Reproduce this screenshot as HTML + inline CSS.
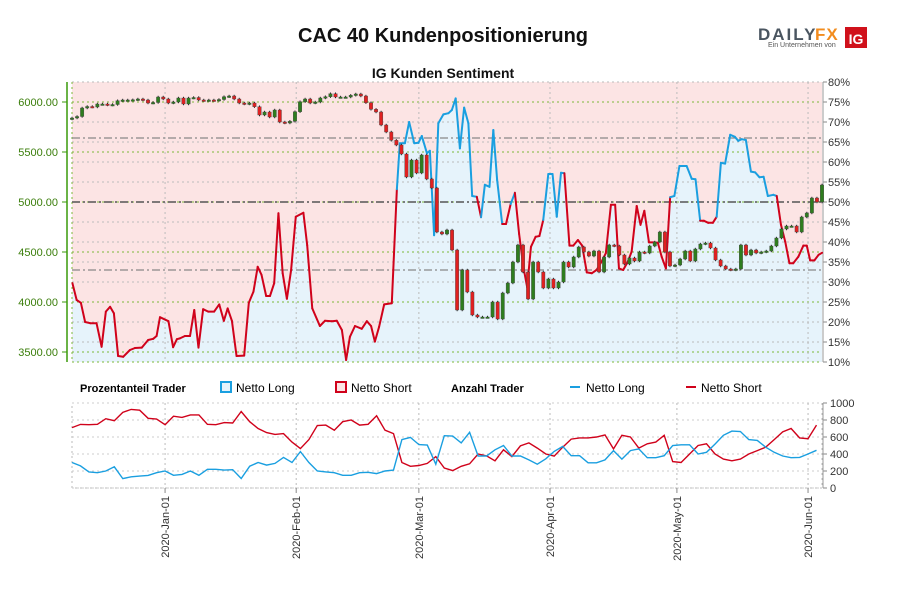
<!DOCTYPE html>
<html><head><meta charset="utf-8"><style>
body{margin:0;background:#fff;font-family:"Liberation Sans",sans-serif}
#wrap{position:relative;width:900px;height:600px;overflow:hidden}
svg text{font-family:"Liberation Sans",sans-serif}
</style></head><body><div id="wrap">
<svg id="s" width="900" height="600" xmlns="http://www.w3.org/2000/svg">
<text x="443" y="42" text-anchor="middle" font-size="20" font-weight="bold" fill="#111">CAC 40 Kundenpositionierung</text>
<text x="443" y="78" text-anchor="middle" font-size="14" font-weight="bold" fill="#111">IG Kunden Sentiment</text>
<g>
<text x="758" y="40" font-size="17" font-weight="bold" fill="#4a5560" letter-spacing="2">DAILY</text>
<text x="815" y="40" font-size="17" font-weight="bold" fill="#f28c1e" letter-spacing="1">FX</text>
<text x="768" y="47" font-size="7" fill="#555">Ein Unternehmen von</text>
<rect x="845" y="27" width="22" height="21" fill="#d0111b"/>
<text x="856" y="44" text-anchor="middle" font-size="14" font-weight="bold" fill="#fff">IG</text>
</g>
<g id="main"></g>
<g id="lower"></g>
<g font-size="12">
<text x="80" y="392" font-weight="bold" font-size="11">Prozentanteil Trader</text>
<rect x="221" y="382" width="10" height="10" fill="#e6f3fb" stroke="#1a9fe0" stroke-width="2"/>
<text x="236" y="392">Netto Long</text>
<rect x="336" y="382" width="10" height="10" fill="#fce4e4" stroke="#d0021b" stroke-width="2"/>
<text x="351" y="392">Netto Short</text>
<text x="451" y="392" font-weight="bold" font-size="11">Anzahl Trader</text>
<line x1="570" y1="387" x2="580" y2="387" stroke="#1a9fe0" stroke-width="2"/>
<text x="586" y="392">Netto Long</text>
<line x1="686" y1="387" x2="696" y2="387" stroke="#d0021b" stroke-width="2"/>
<text x="701" y="392">Netto Short</text>
</g>
</svg></div>
<script>
// ---- data ----
const sentDays=[0.1,1.1,2.1,3.1,4.3,5.8,7.0,8.0,9.0,9.9,10.9,12.1,13.7,14.9,16.5,18.0,19.2,20.0,20.8,22.8,23.9,24.8,25.5,26.7,27.9,28.9,29.9,31.0,32.2,33.6,34.8,35.9,36.8,37.8,38.9,40.7,41.8,42.9,43.9,44.8,45.9,46.8,47.8,48.8,49.8,50.8,51.8,52.9,54.7,55.6,56.8,58.6,59.8,61.4,62.6,63.8,64.8,65.7,66.9,68.5,69.7,70.7,71.6,72.6,73.8,75.6,76.8,77.5,78.7,79.7,80.9,81.9,82.7,83.9,84.6,85.6,86.6,87.8,89.0,89.8,90.7,91.7,92.7,93.7,94.6,95.7,96.7,97.6,98.7,99.6,100.5,101.7,102.6,103.7,104.7,105.7,106.7,107.6,108.5,109.6,110.5,111.4,112.6,113.6,114.6,115.6,116.4,117.6,118.5,119.6,120.6,121.7,122.9,124.0,125.2,126.2,127.4,128.4,129.3,130.3,131.4,132.3,133.5,134.4,135.3,136.4,137.4,138.5,139.4,140.4,141.4,142.4,143.6,145.3,146.5,147.4,148.5,149.4,150.4,151.5,152.4,153.4,154.4,155.6,156.7,157.5,158.3,159.3,160.5,161.5,162.5,163.5,164.5,165.8,166.6,167.6,168.6,169.6,170.5,171.7,172.9,173.7,174.5,175.5,176.5,177.3];
const sentLong=[29.7,25.5,24.8,20,19.7,19.7,13.8,22.6,23.8,22.2,11.5,11.3,13,13.5,13.6,15.5,15.8,16.5,21.2,20.2,13.7,15.7,15.9,16.5,16.5,23,13.6,23.2,22.6,22.6,24.4,20.3,23.4,20.3,11.5,11.6,24.8,27.6,33.8,31.8,26.5,26.5,29.7,47.2,32.2,25.8,33,46.3,47.3,39.2,23.4,19,20.3,20.2,20.3,18,10.5,16.3,19,18.3,20.2,19,15.1,18.8,24.4,24.7,53.2,64.7,64.7,70,64.7,64.8,66.5,62.2,62.8,41.7,69.7,71.9,72.2,73,75.9,63.4,73.6,69.7,51.5,51.3,46.2,54.3,53.8,68,55.5,44.5,44.5,49.5,52.3,42,33.8,28.7,38.8,41.3,41.5,45.5,57,57,46.3,57.3,57.2,39.1,39.1,40.5,39.1,32.4,32.2,33,35.1,37.2,49.3,49.3,33.4,33,35.1,37.6,49,44.3,47.8,39.9,39.9,39.8,36.3,33.4,51.2,51.5,59,59,55.8,55.7,45.3,45.3,44.8,44.8,46.3,59.8,59.6,66.8,66.3,65.3,65.7,65.5,57.6,57.4,56.2,56.3,51.5,51.8,51.5,44.3,40.1,34.7,34.7,36.3,39.1,39.1,35.4,35.4,36.8,37.3];
const closes=[5840,5855,5940,5955,5950,5980,5980,5970,5975,6013,6020,6020,6022,6030,6020,5990,5995,6050,6030,5990,6000,6040,5980,6040,6045,6020,6015,6020,6015,6025,6053,6060,6030,5990,5980,5990,5953,5870,5900,5850,5920,5800,5790,5807,5903,6003,6030,5990,6000,6040,6053,6083,6050,6050,6050,6067,6080,6060,5993,5927,5900,5770,5700,5617,5570,5480,5250,5420,5290,5470,5230,5140,4700,4680,4720,4520,3920,4320,4100,3870,3850,3850,3850,4000,3830,4090,4190,4400,4570,4300,4030,4400,4300,4140,4230,4140,4200,4400,4350,4450,4550,4500,4460,4510,4300,4450,4570,4560,4470,4380,4440,4410,4500,4490,4560,4600,4700,4500,4360,4370,4430,4510,4410,4530,4580,4590,4540,4420,4360,4330,4320,4330,4570,4470,4520,4490,4500,4510,4560,4640,4730,4760,4760,4700,4850,4890,5040,5000,5170];
const countDays=[0,2,4,6,8,10,12,14,16,18,20,22,24,26,28,30,32,34,36,38,40,42,44,46,48,50,52,54,56,58,60,62,64,66,68,70,72,74,76,78,80,82,84,86,88,90,92,94,96,98,100,102,104,106,108,110,112,114,116,118,120,122,124,126,128,130,132,134,136,138,140,142,144,146,148,150,152,154,156,158,160,162,164,166,168,170,172,174,176];
const countShort=[710,748,745,750,815,792,890,925,915,820,810,745,845,830,860,860,750,745,770,765,900,780,700,652,630,640,540,464,570,735,740,680,780,800,740,750,850,680,640,300,255,265,290,370,235,205,255,285,400,378,320,450,370,495,530,470,400,375,480,575,590,590,600,625,460,620,600,470,520,540,620,310,300,400,500,520,400,340,320,340,400,440,480,570,660,700,590,580,740];
const countLong=[300,260,190,180,200,250,110,132,140,148,180,200,150,160,200,150,220,220,210,215,112,256,300,270,290,360,300,428,300,200,190,180,150,150,180,185,170,200,210,570,595,510,505,280,615,610,530,655,376,376,450,500,376,376,330,280,344,430,490,380,380,296,296,330,440,340,440,460,356,356,380,500,508,508,400,420,516,620,670,665,570,560,480,420,376,356,360,400,444];
const priceTicks=[6000,5500,5000,4500,4000,3500];
const pctTicks=[80,75,70,65,60,55,50,45,40,35,30,25,20,15,10];
const countTicks=[1000,800,600,400,200,0];
const monthLabels=["2020-Jan-01","2020-Feb-01","2020-Mar-01","2020-Apr-01","2020-May-01","2020-Jun-01"];
const monthDays=[22,53,82,113,143,174];
const refPct=[66,50,33];
// ---- scales ----
const X0=72,X1=822,DAYSPAN=177.3;
const xd=d=>X0+d/DAYSPAN*(X1-X0);
const yPct=p=>82+(80-p)*4;
const yPrice=p=>202-(p-5000)*0.1;
const yCnt=v=>488-v*0.085;
const NS="http://www.w3.org/2000/svg";
function mk(tag,attrs,parent,txt){const e=document.createElementNS(NS,tag);for(const k in attrs)e.setAttribute(k,attrs[k]);if(txt!==undefined)e.textContent=txt;parent.appendChild(e);return e;}
const main=document.getElementById('main'),lower=document.getElementById('lower');
let bg=mk('rect',{x:X0,y:82,width:X1-X0,height:280,fill:'#fce4e4'},main);


let pts=sentDays.map((d,i)=>xd(d).toFixed(1)+','+yPct(sentLong[i]).toFixed(1));
let fill=mk('polygon',{points:xd(sentDays[0])+',362 '+pts.join(' ')+' '+xd(sentDays[sentDays.length-1])+',362',fill:'#e6f3fb'},main);


pctTicks.forEach(p=>{const l=mk('line',{x1:X0,x2:X1,y1:yPct(p),y2:yPct(p),stroke:'#bbb','stroke-dasharray':'2,3','stroke-width':1},main);


const t=mk('text',{x:828,y:yPct(p)+4,'font-size':11,fill:'#333'},main,p+'%');


mk('line',{x1:823,x2:827,y1:yPct(p),y2:yPct(p),stroke:'#888'},main);});
priceTicks.forEach(p=>{const l=mk('line',{x1:X0,x2:X1,y1:yPrice(p),y2:yPrice(p),stroke:'#7cb83a','stroke-dasharray':'2,3','stroke-width':1},main);


const t=mk('text',{x:58,y:yPrice(p)+4,'font-size':11,fill:'#3a7d0a','text-anchor':'end'},main,p.toFixed(2));


mk('line',{x1:62,x2:67,y1:yPrice(p),y2:yPrice(p),stroke:'#3a9a0a'},main);});
mk('line',{x1:X0,x2:X1,y1:362,y2:362,stroke:'#7cb83a','stroke-dasharray':'2,3'},main);
monthDays.forEach(d=>{const l=mk('line',{x1:xd(d),x2:xd(d),y1:82,y2:362,stroke:'#bbb','stroke-dasharray':'2,3'},main);

});
mk('line',{x1:67,x2:67,y1:82,y2:362,stroke:'#3a9a0a','stroke-width':1.5},main);
mk('line',{x1:823,x2:823,y1:82,y2:362,stroke:'#999'},main);
mk('line',{x1:X0,x2:X0,y1:82,y2:362,stroke:'#7cb83a','stroke-dasharray':'2,3'},main);
refPct.forEach((p,i)=>{const l=mk('line',{x1:X0,x2:X1,y1:yPct(p),y2:yPct(p),stroke:i==1?'#555':'#888','stroke-dasharray':'8,3,2,3','stroke-width':i==1?1.5:1.2},main);

});
for(let i=1;i<sentDays.length;i++){
 const a=sentLong[i-1],b=sentLong[i];
 const seg=mk('line',{x1:xd(sentDays[i-1]),y1:yPct(a),x2:xd(sentDays[i]),y2:yPct(b),stroke:((a+b)/2>=50)?'#1a9fe0':'#d0021b','stroke-width':2,'stroke-linecap':'round'},main);
 
 
}
const n=closes.length,step=(X1-X0)/(n-1);
for(let i=0;i<n;i++){
 const c=closes[i],o=i?closes[i-1]:c-10;
 const hi=Math.max(o,c)+12,lo=Math.min(o,c)-12;
 const x=X0+i*step,up=c>=o;
 const w=mk('line',{x1:x,x2:x,y1:yPrice(hi),y2:yPrice(lo),stroke:'#222','stroke-width':1},main);
 
 
 const top=yPrice(Math.max(o,c)),h=Math.max(1.5,Math.abs(yPrice(o)-yPrice(c)));
 const r=mk('rect',{x:x-1.7,y:top,width:3.4,height:h,fill:up?'#2e7d1e':'#e02020',stroke:'#444','stroke-width':0.4},main);
 
 
}
const fr=mk('rect',{x:X0,y:403,width:X1-X0,height:85,fill:'none',stroke:'#bbb','stroke-dasharray':'2,3'},lower);


countTicks.forEach(v=>{const l=mk('line',{x1:X0,x2:X1,y1:yCnt(v),y2:yCnt(v),stroke:'#ccc','stroke-dasharray':'2,3'},lower);


mk('line',{x1:823,x2:827,y1:yCnt(v),y2:yCnt(v),stroke:'#888'},lower);
const t=mk('text',{x:830,y:yCnt(v)+4,'font-size':11,fill:'#333'},lower,String(v));

});
mk('line',{x1:823,x2:823,y1:403,y2:488,stroke:'#999'},lower);
monthDays.forEach((d,i)=>{const l=mk('line',{x1:xd(d),x2:xd(d),y1:403,y2:488,stroke:'#bbb','stroke-dasharray':'2,3'},lower);


mk('line',{x1:xd(d),x2:xd(d),y1:488,y2:493,stroke:'#888'},lower);
const t=mk('text',{x:0,y:0,'font-size':11,fill:'#333','text-anchor':'end',transform:'translate('+(xd(d)+4)+',496) rotate(-90)'},lower,monthLabels[i]);

});
const sp=mk('polyline',{points:countDays.map((d,i)=>xd(d).toFixed(1)+','+yCnt(countShort[i]).toFixed(1)).join(' '),fill:'none',stroke:'#d0021b','stroke-width':1.4},lower);


const lp=mk('polyline',{points:countDays.map((d,i)=>xd(d).toFixed(1)+','+yCnt(countLong[i]).toFixed(1)).join(' '),fill:'none',stroke:'#1a9fe0','stroke-width':1.4},lower);


</script></body></html>
